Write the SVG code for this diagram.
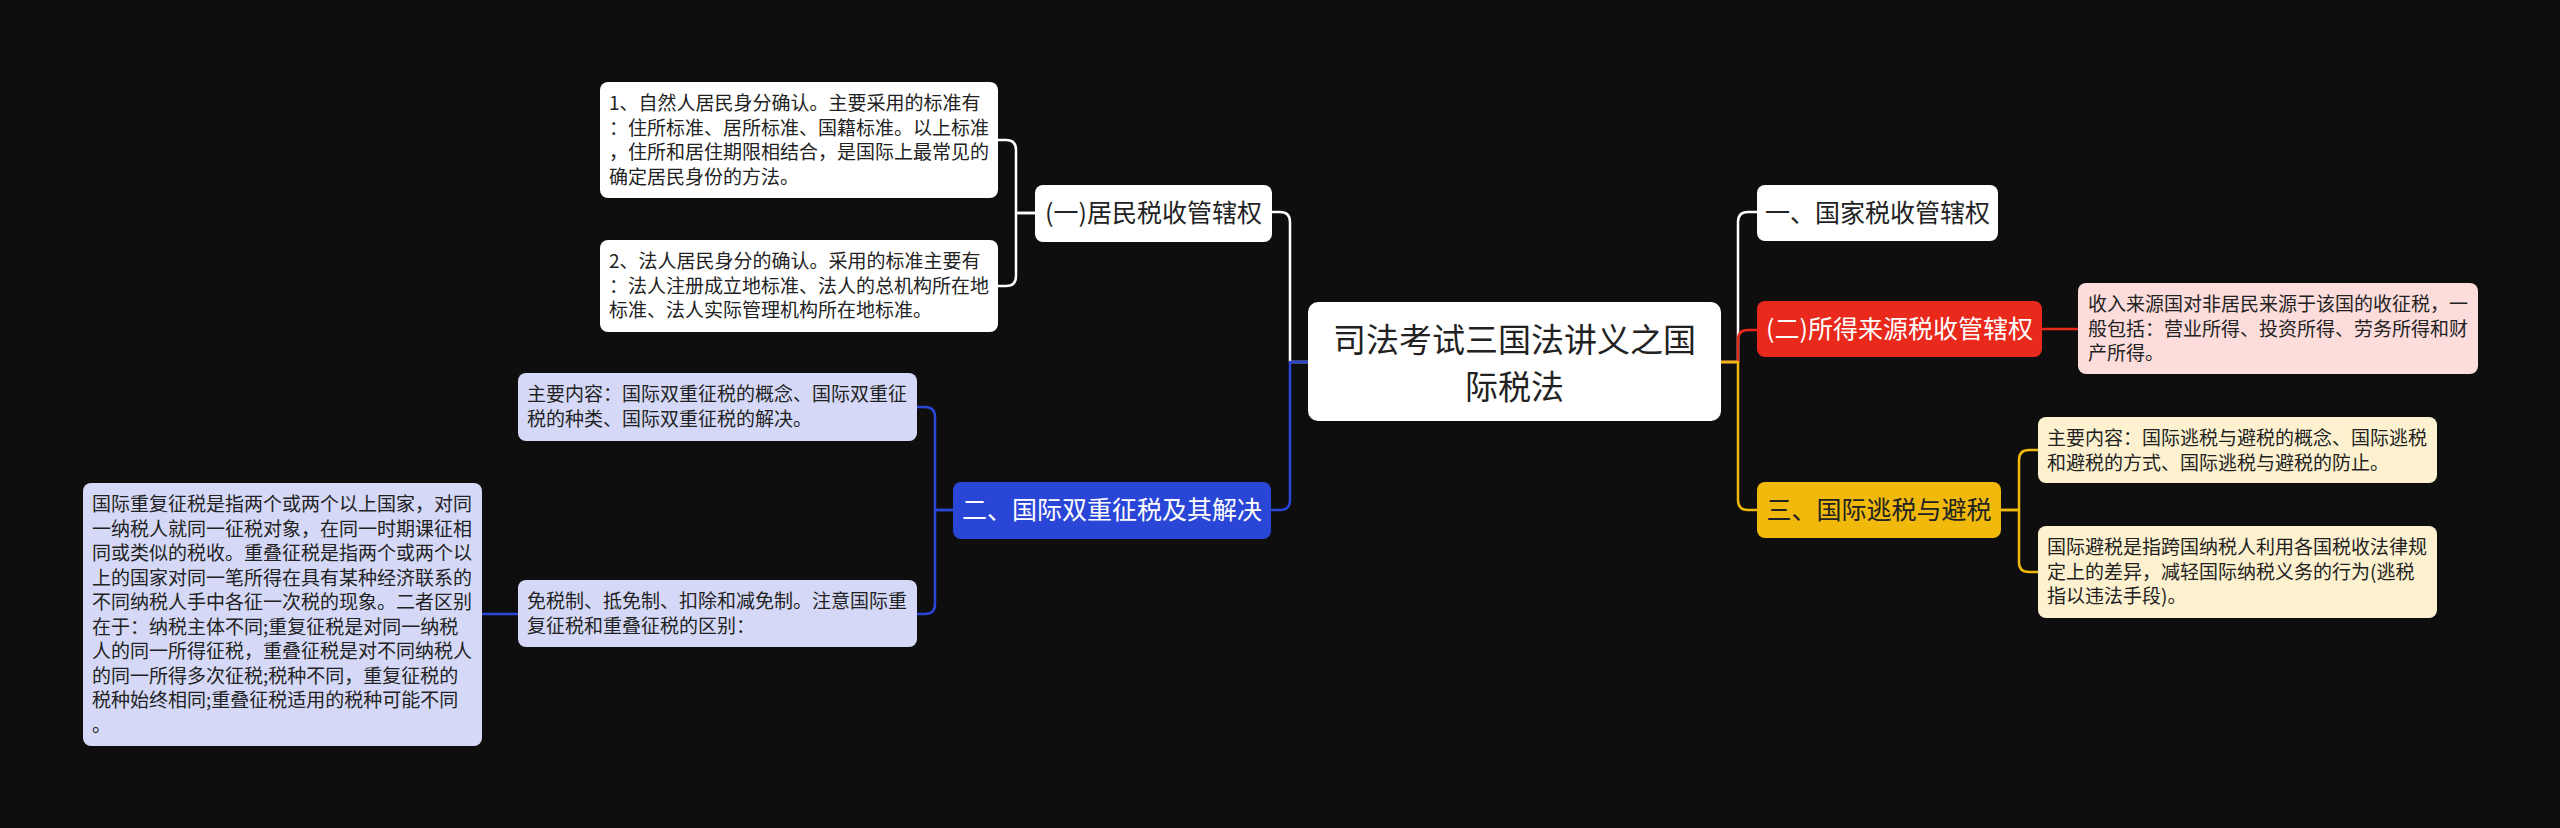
<svg xmlns="http://www.w3.org/2000/svg" width="2560" height="828" viewBox="0 0 2560 828">
<style>
text{font-family:"Noto Sans CJK SC","Noto Sans",sans-serif;}
.s{font-size:19px;fill:#222;}
.l1{font-size:25px;text-anchor:middle;}
.rt{font-size:33px;text-anchor:middle;fill:#222;}
.c{fill:none;stroke-width:2.5;stroke-linecap:round;stroke-linejoin:round;}
</style>
<rect width="2560" height="828" fill="#0e0e0e"/>
<g id="connectors">
<path class="c" stroke="#ffffff" d="M1308,362 H1290 V222 Q1290,212 1280,212 H1272"/>
<path class="c" stroke="#2a46d6" d="M1308,362 H1290 V500 Q1290,510 1280,510 H1272"/>
<path class="c" stroke="#ffffff" d="M1721,362 H1738 V222 Q1738,212 1748,212 H1757"/>
<path class="c" stroke="#e8291c" d="M1721,362 H1738 V340 Q1738,330 1748,330 H1757"/>
<path class="c" stroke="#f0b90b" d="M1721,362 H1738 V500 Q1738,510 1748,510 H1757"/>
<path class="c" stroke="#e8291c" d="M2042,329 H2078"/>
<path class="c" stroke="#f0b90b" d="M2001,510 H2019 V460 Q2019,450 2029,450 H2038"/>
<path class="c" stroke="#f0b90b" d="M2001,510 H2019 V562 Q2019,572 2029,572 H2038"/>
<path class="c" stroke="#ffffff" d="M1035,213 H1016 V150 Q1016,140 1006,140 H998"/>
<path class="c" stroke="#ffffff" d="M1035,213 H1016 V276 Q1016,286 1006,286 H998"/>
<path class="c" stroke="#2a46d6" d="M953,510 H935 V417 Q935,407 925,407 H917"/>
<path class="c" stroke="#2a46d6" d="M953,510 H935 V604 Q935,614 925,614 H917"/>
<path class="c" stroke="#2a46d6" d="M518,614 H482"/>
</g>
<g id="root">
<rect x="1308" y="302" width="413" height="119" rx="10" fill="#ffffff"/>
<text class="rt" x="1514.5" y="352">司法考试三国法讲义之国</text>
<text class="rt" x="1514.5" y="399">际税法</text>
</g>
<g id="n-state">
<rect x="1757" y="185" width="241" height="56" rx="8" fill="#ffffff"/>
<text class="l1" x="1877.5" y="222" fill="#222">一、国家税收管辖权</text>
</g>
<g id="n-source">
<rect x="1757" y="301" width="285" height="56" rx="8" fill="#e8291c"/>
<text class="l1" x="1899.5" y="338" fill="#ffffff">(二)所得来源税收管辖权</text>
</g>
<g id="n-source-d">
<rect x="2078" y="283" width="400" height="91" rx="8" fill="#fddcdc"/>
<text class="s" x="2088" y="311">收入来源国对非居民来源于该国的收征税，一</text>
<text class="s" x="2088" y="335.5">般包括：营业所得、投资所得、劳务所得和财</text>
<text class="s" x="2088" y="360">产所得。</text>
</g>
<g id="n-evade">
<rect x="1757" y="482" width="244" height="56" rx="8" fill="#f0b90b"/>
<text class="l1" x="1879" y="519" fill="#222">三、国际逃税与避税</text>
</g>
<g id="n-evade-1">
<rect x="2038" y="417" width="399" height="66" rx="8" fill="#fdf1cf"/>
<text class="s" x="2047" y="445">主要内容：国际逃税与避税的概念、国际逃税</text>
<text class="s" x="2047" y="469.5">和避税的方式、国际逃税与避税的防止。</text>
</g>
<g id="n-evade-2">
<rect x="2038" y="526" width="399" height="92" rx="8" fill="#fdf1cf"/>
<text class="s" x="2047" y="554">国际避税是指跨国纳税人利用各国税收法律规</text>
<text class="s" x="2047" y="578.5">定上的差异，减轻国际纳税义务的行为(逃税</text>
<text class="s" x="2047" y="603">指以违法手段)。</text>
</g>
<g id="n-resid">
<rect x="1035" y="185" width="237" height="57" rx="8" fill="#ffffff"/>
<text class="l1" x="1153.5" y="222" fill="#222">(一)居民税收管辖权</text>
</g>
<g id="n-resid-1">
<rect x="600" y="82" width="398" height="116" rx="8" fill="#ffffff"/>
<text class="s" x="609" y="110">1、自然人居民身分确认。主要采用的标准有</text>
<text class="s" x="609" y="134.5">：住所标准、居所标准、国籍标准。以上标准</text>
<text class="s" x="609" y="159">，住所和居住期限相结合，是国际上最常见的</text>
<text class="s" x="609" y="183.5">确定居民身份的方法。</text>
</g>
<g id="n-resid-2">
<rect x="600" y="240" width="398" height="92" rx="8" fill="#ffffff"/>
<text class="s" x="609" y="268">2、法人居民身分的确认。采用的标准主要有</text>
<text class="s" x="609" y="292.5">：法人注册成立地标准、法人的总机构所在地</text>
<text class="s" x="609" y="317">标准、法人实际管理机构所在地标准。</text>
</g>
<g id="n-double">
<rect x="953" y="482" width="318" height="57" rx="8" fill="#2a46d6"/>
<text class="l1" x="1112" y="519" fill="#ffffff">二、国际双重征税及其解决</text>
</g>
<g id="n-double-1">
<rect x="518" y="373" width="399" height="68" rx="8" fill="#d5d9f7"/>
<text class="s" x="527" y="401">主要内容：国际双重征税的概念、国际双重征</text>
<text class="s" x="527" y="425.5">税的种类、国际双重征税的解决。</text>
</g>
<g id="n-double-2">
<rect x="518" y="580" width="399" height="67" rx="8" fill="#d5d9f7"/>
<text class="s" x="527" y="608">免税制、抵免制、扣除和减免制。注意国际重</text>
<text class="s" x="527" y="632.5">复征税和重叠征税的区别：</text>
</g>
<g id="n-double-3">
<rect x="83" y="483" width="399" height="263" rx="8" fill="#d5d9f7"/>
<text class="s" x="92" y="511">国际重复征税是指两个或两个以上国家，对同</text>
<text class="s" x="92" y="535.5">一纳税人就同一征税对象，在同一时期课征相</text>
<text class="s" x="92" y="560">同或类似的税收。重叠征税是指两个或两个以</text>
<text class="s" x="92" y="584.5">上的国家对同一笔所得在具有某种经济联系的</text>
<text class="s" x="92" y="609">不同纳税人手中各征一次税的现象。二者区别</text>
<text class="s" x="92" y="633.5">在于：纳税主体不同;重复征税是对同一纳税</text>
<text class="s" x="92" y="658">人的同一所得征税，重叠征税是对不同纳税人</text>
<text class="s" x="92" y="682.5">的同一所得多次征税;税种不同，重复征税的</text>
<text class="s" x="92" y="707">税种始终相同;重叠征税适用的税种可能不同</text>
<text class="s" x="92" y="731.5">。</text>
</g>
</svg>
